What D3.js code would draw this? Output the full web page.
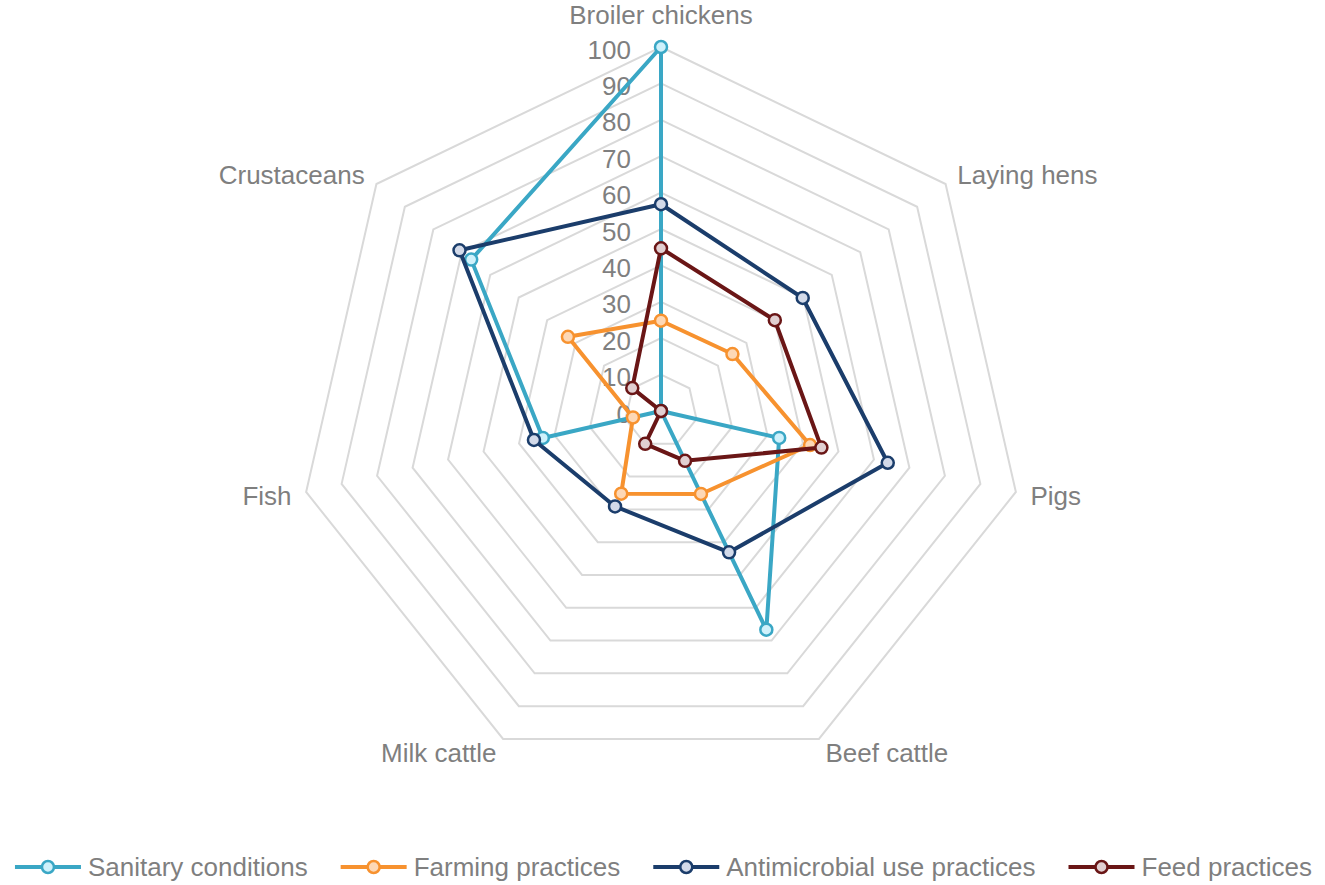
<!DOCTYPE html>
<html>
<head>
<meta charset="utf-8">
<script src="https://cdn.jsdelivr.net/npm/d3@7"></script>
<style>
  body { margin: 0; background: #ffffff; }
  svg text { font-family: "Liberation Sans", Arial, sans-serif; fill: #7f7f7f; }
</style>
</head>
<body>
<svg id="chart" width="1325" height="885"></svg>
<script>
// ---- data ----
const categories = ["Broiler chickens", "Laying hens", "Pigs", "Beef cattle", "Milk cattle", "Fish", "Crustaceans"];
const seriesNames = ["Sanitary conditions", "Farming practices", "Antimicrobial use practices", "Feed practices"];
const sanitaryConditions = [100, 0, 33.3, 66.7, 0, 33.3, 66.7];
const farmingPractices = [24.8, 25.1, 42.0, 25.3, 25.2, 7.9, 32.7];
const antimicrobialUse = [56.8, 49.8, 63.9, 43.1, 29.1, 35.8, 70.8];
const feedPractices = [44.7, 40.0, 45.2, 15.2, 10.0, 0, 10.1];
const tickValues = [0, 10, 20, 30, 40, 50, 60, 70, 80, 90, 100];
const tickLabels = ["0", "10", "20", "30", "40", "50", "60", "70", "80", "90", "100"];

// ---- styles ----
const lineColors = ["#3aa7c5", "#f7922f", "#1b3d6b", "#6a1616"];
const markerFills = ["#cff1fb", "#fdd8b6", "#d3dae9", "#e1cfd1"];
const fontSize = 26;

const allSeries = [sanitaryConditions, farmingPractices, antimicrobialUse, feedPractices];

const svg = d3.select("#chart");
const W = 1325, H = 885;
const cx = 661, cy = 411, R = 364;

const r = d3.scaleLinear().domain([0, 100]).range([0, R]);
const angle = d3.scaleLinear().domain([0, categories.length]).range([0, 2 * Math.PI]);

const g = svg.append("g").attr("transform", `translate(${cx},${cy})`);

// grid rings
const ringGen = d3.lineRadial()
  .angle((d, i) => angle(i))
  .radius(d => d)
  .curve(d3.curveLinearClosed);

g.append("g").selectAll("path")
  .data(tickValues.filter(v => v > 0))
  .join("path")
  .attr("d", v => ringGen(categories.map(() => r(v))))
  .attr("fill", "none")
  .attr("stroke", "#d9d9d9")
  .attr("stroke-width", 2);

// tick labels
g.append("g").selectAll("text")
  .data(tickValues)
  .join("text")
  .attr("x", -30)
  .attr("y", v => -r(v) + 11.5)
  .attr("text-anchor", "end")
  .attr("font-size", fontSize)
  .text((v, i) => tickLabels[i]);

// category labels
g.append("g").selectAll("text")
  .data(categories)
  .join("text")
  .attr("font-size", fontSize)
  .each(function (c, i) {
    const a = angle(i);
    const s = Math.sin(a);
    const el = d3.select(this);
    if (Math.abs(s) < 1e-6) {
      el.attr("x", 0).attr("y", -R - 23).attr("text-anchor", "middle");
    } else {
      const p = d3.pointRadial(a, R + 15);
      el.attr("x", p[0]).attr("y", p[1] + 9.5).attr("text-anchor", s > 0 ? "start" : "end");
    }
  })
  .text(d => d);

// series
const lineGen = d3.lineRadial()
  .angle((d, i) => angle(i))
  .radius(d => r(d))
  .curve(d3.curveLinearClosed);

allSeries.forEach((vals, si) => {
  const sg = g.append("g");
  sg.append("path")
    .attr("d", lineGen(vals))
    .attr("fill", "none")
    .attr("stroke", lineColors[si])
    .attr("stroke-width", 4)
    .attr("stroke-linejoin", "round");
  sg.selectAll("circle")
    .data(vals)
    .join("circle")
    .attr("cx", (d, i) => d3.pointRadial(angle(i), r(d))[0])
    .attr("cy", (d, i) => d3.pointRadial(angle(i), r(d))[1])
    .attr("r", 6)
    .attr("fill", markerFills[si])
    .attr("stroke", lineColors[si])
    .attr("stroke-width", 2.5);
});

// legend
const legendY = 867;
const sampleLen = 66, textGap = 7, itemGap = 33;
const lg = svg.append("g");
const items = seriesNames.map((name, i) => {
  const it = lg.append("g");
  it.append("line")
    .attr("x1", 0).attr("x2", sampleLen)
    .attr("y1", 0).attr("y2", 0)
    .attr("stroke", lineColors[i]).attr("stroke-width", 4);
  it.append("circle")
    .attr("cx", sampleLen / 2).attr("cy", 0).attr("r", 6)
    .attr("fill", markerFills[i]).attr("stroke", lineColors[i]).attr("stroke-width", 2.5);
  const t = it.append("text")
    .attr("x", sampleLen + textGap).attr("y", 9)
    .attr("font-size", fontSize)
    .text(name);
  const w = sampleLen + textGap + t.node().getComputedTextLength();
  return { it, w };
});
const total = d3.sum(items, d => d.w) + itemGap * (items.length - 1);
let x0 = W / 2 - total / 2 + 1;
items.forEach(d => {
  d.it.attr("transform", `translate(${x0},${legendY})`);
  x0 += d.w + itemGap;
});
</script>
</body>
</html>
